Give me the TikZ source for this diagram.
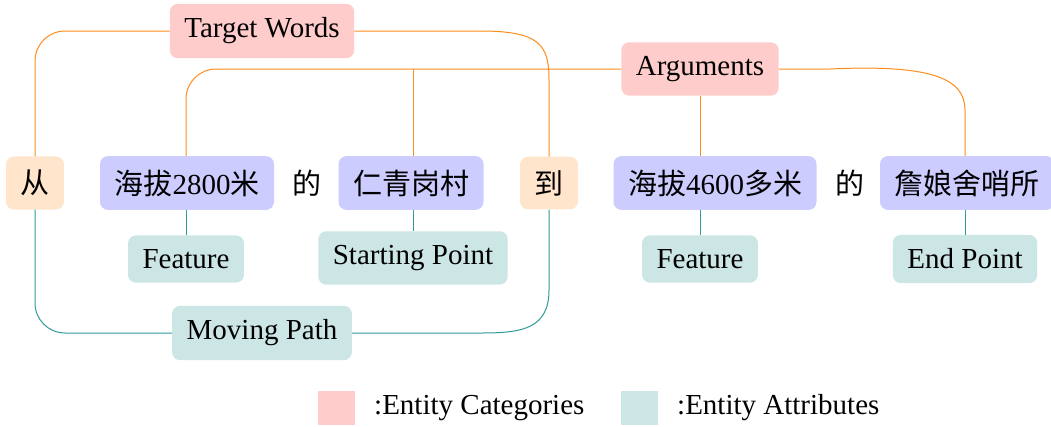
\documentclass[tikz,border=0pt]{standalone}
\usepackage{fontspec}
\setmainfont{Liberation Serif}
\newfontfamily\cjk{Noto Sans CJK SC}
\definecolor{catcol}{HTML}{FFCCCC}
\definecolor{attcol}{HTML}{CCE5E5}
\definecolor{entcol}{HTML}{CCCCFF}
\definecolor{fwcol}{HTML}{FFE5CC}
\definecolor{orline}{HTML}{FF8C1A}
\definecolor{tlline}{HTML}{2E9A9A}
\begin{document}
\begin{tikzpicture}[x=1pt,y=-1pt,
  base/.style={rounded corners=8pt, inner xsep=14.5pt, inner ysep=14pt, font=\fontsize{29}{34}\selectfont},
  cat/.style={base, fill=catcol},
  att/.style={base, fill=attcol},
  ent/.style={base, fill=entcol, inner ysep=13.5pt},
  fw/.style={base, fill=fwcol, inner ysep=13.5pt},
  plaintxt/.style={font=\fontsize{29}{34}\selectfont},
  oline/.style={draw=orline, line width=1pt},
  tline/.style={draw=tlline, line width=1pt},
  legsq/.style={minimum width=37pt, minimum height=34pt, inner sep=0pt},
]
\useasboundingbox (0,0) rectangle (1051,426);
\coordinate (a1) at (480,31);
\coordinate (a2) at (830,69);
\coordinate (a3) at (480,333);

\node[cat] (tw) at (262,31) {Target Words};
\node[cat] (arg) at (700,69) {Arguments};
\node[fw] (cong) at (35,183) {\cjk 从};
\node[ent] (e1) at (187,183) {{\cjk 海拔}2800{\cjk 米}};
\node[plaintxt] (de1) at (307,183) {\cjk 的};
\node[ent] (e2) at (411,183) {\cjk 仁青岗村};
\node[fw] (dao) at (549,183) {\cjk 到};
\node[ent] (e3) at (715,183) {{\cjk 海拔}4600{\cjk 多米}};
\node[plaintxt] (de2) at (850,183) {\cjk 的};
\node[ent] (e4) at (967,183) {\cjk 詹娘舍哨所};
\node[att] (f1) at (186,259) {Feature};
\node[att] (sp) at (413,258) {Starting Point};
\node[att] (f2) at (700,259) {Feature};
\node[att] (ep) at (965,259) {End Point};
\node[att] (mp) at (262,333) {Moving Path};

% orange connectors
\draw[oline, rounded corners=30pt] (tw.west) -| (cong.north);
\draw[oline] (tw.east) -- (a1) .. controls (540,31) and (549,45) .. (549,80) -- (dao.north);
\draw[oline, rounded corners=30pt] (arg.west) -| (f1.north |- e1.north);
\draw[oline] (sp.north |- arg.west) -- (sp.north |- e2.north);
\draw[oline] (arg.south) -- (arg.south |- e3.north);
\draw[oline] (arg.east) -- (a2) .. controls (935,64) and (965,80) .. (965,110) -- (ep.north |- e4.north);
% teal connectors
\draw[tline] (f1.north) -- (f1.north |- e1.south);
\draw[tline] (sp.north) -- (sp.north |- e2.south);
\draw[tline] (f2.north) -- (f2.north |- e3.south);
\draw[tline] (ep.north) -- (ep.north |- e4.south);
\draw[tline, rounded corners=30pt] (cong.south) |- (mp.west);
\draw[tline] (dao.south) -- (549,290) .. controls (549,330) and (520,333) .. (a3) -- (mp.east);

% legend
\node[legsq, fill=catcol] (l1) at (336.5,408) {};
\node[plaintxt, anchor=west, inner sep=0pt] (l1t) at (374,408) {:Entity Categories};
\node[legsq, fill=attcol] (l2) at (639.5,408) {};
\node[plaintxt, anchor=west, inner sep=0pt] (l2t) at (677,408) {:Entity Attributes};
\end{tikzpicture}
\end{document}
